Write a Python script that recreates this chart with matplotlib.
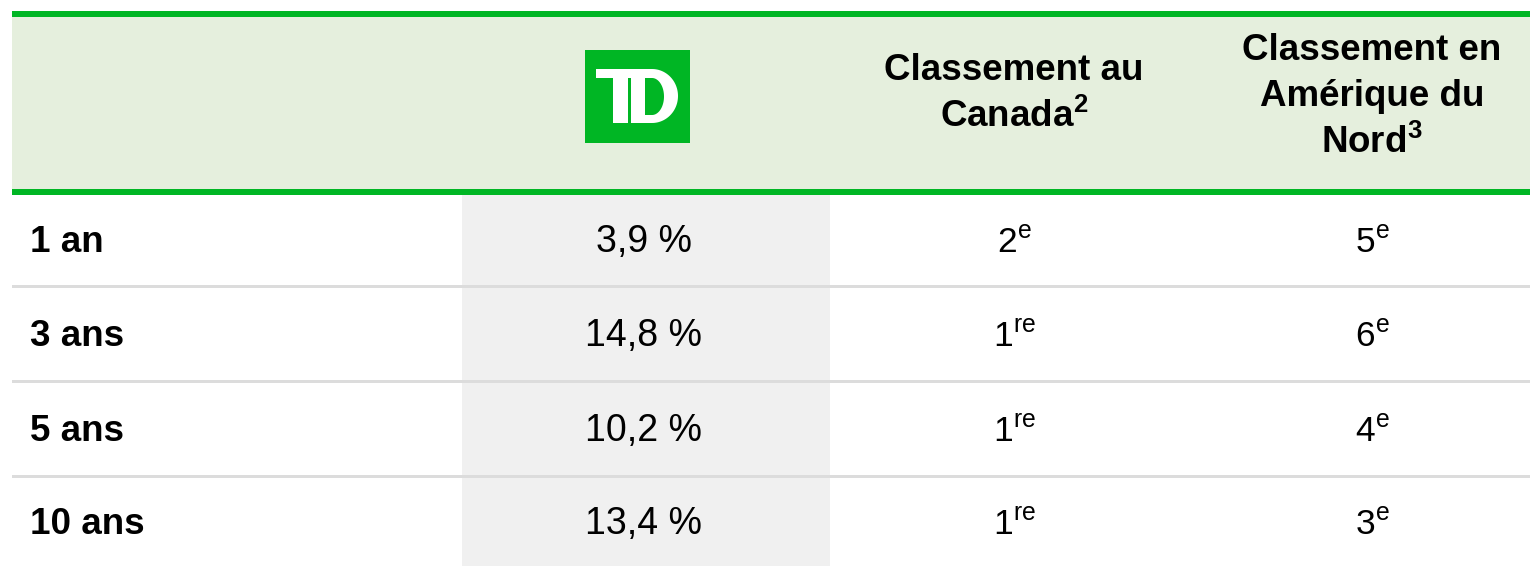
import numpy as np
import matplotlib.pyplot as plt
from matplotlib.patches import Rectangle, Polygon

plt.rcParams["font.family"] = ["Liberation Sans", "DejaVu Sans"]
plt.rcParams["mathtext.default"] = "regular"

# ---- Data ----
periods = ["1 an", "3 ans", "5 ans", "10 ans"]
td_returns = [3.9, 14.8, 10.2, 13.4]
rank_canada = [2, 1, 1, 1]
rank_north_america = [5, 6, 4, 3]
headers = ["Classement au\nCanada$^{2}$", "Classement en\nAmérique du\nNord$^{3}$"]

# ---- Style ----
GREEN = "#00B624"
HEADER_BG = "#E5EFDD"
COL_BG = "#F0F0F0"
SEP = "#DCDCDC"
W, H = 1530, 566

# column centres / row geometry (pixels)
col_x = [30, 644, 1014, 1372]
row_top = [195, 288, 383, 478]
row_bottom = [285, 380, 475, 566]


def fmt_pct(v):
    return f"{v:.1f}".replace(".", ",") + " %"


def fmt_rank(r):
    suffix = "re" if r == 1 else "e"
    return f"{r}$^{{{suffix}}}$"


fig = plt.figure(figsize=(W / 100, H / 100), dpi=100)
ax = fig.add_axes([0, 0, 1, 1])
ax.set_xlim(0, W)
ax.set_ylim(H, 0)
ax.axis("off")

# header band
ax.add_patch(Rectangle((12, 11), W - 12, 6, color=GREEN, lw=0))
ax.add_patch(Rectangle((12, 17), W - 12, 172, color=HEADER_BG, lw=0))
ax.add_patch(Rectangle((12, 189), W - 12, 6, color=GREEN, lw=0))

# grey TD column
ax.add_patch(Rectangle((462, 195), 368, H - 195, color=COL_BG, lw=0))

# row separators
for yb in row_bottom[:-1]:
    ax.add_patch(Rectangle((12, yb), W - 12, 3, color=SEP, lw=0))

# ---- TD logo ----
ax.add_patch(Rectangle((585, 50), 105, 93, color=GREEN, lw=0))
ax.add_patch(Rectangle((596, 69), 36, 9, color="white", lw=0))    # T bar
ax.add_patch(Rectangle((613, 69), 15, 54, color="white", lw=0))   # T stem
t = np.linspace(-np.pi / 2, np.pi / 2, 60)
outer = [(631, 123), (631, 69), (652, 69)] + \
    [(652 + 26 * np.cos(a), 96 - 27 * np.sin(a)) for a in t[::-1]][1:] + [(652, 123)]
ax.add_patch(Polygon(outer, closed=True, color="white", lw=0))
inner = [(645, 115), (645, 78), (652, 78)] + \
    [(652 + 12 * np.cos(a), 96.5 - 18.5 * np.sin(a)) for a in t[::-1]][1:] + [(652, 115)]
ax.add_patch(Polygon(inner, closed=True, color=GREEN, lw=0))

# ---- Header text ----
ax.text(col_x[2], 94, headers[0], ha="center", va="center", fontsize=26.5,
        fontweight="bold", linespacing=1.38)
ax.text(col_x[3], 97, headers[1], ha="center", va="center", fontsize=26.5,
        fontweight="bold", linespacing=1.38)

# ---- Body ----
for i, period in enumerate(periods):
    yb = (row_top[i] + row_bottom[i]) / 2 + 12
    ax.text(col_x[0], yb, period, ha="left", va="baseline", fontsize=26.5,
            fontweight="bold")
    ax.text(col_x[1], yb, fmt_pct(td_returns[i]), ha="center", va="baseline",
            fontsize=27)
    ax.text(col_x[2], yb, fmt_rank(rank_canada[i]), ha="center",
            va="baseline", fontsize=25.5)
    ax.text(col_x[3], yb, fmt_rank(rank_north_america[i]), ha="center",
            va="baseline", fontsize=25.5)

fig.savefig("out.png", dpi=100)
